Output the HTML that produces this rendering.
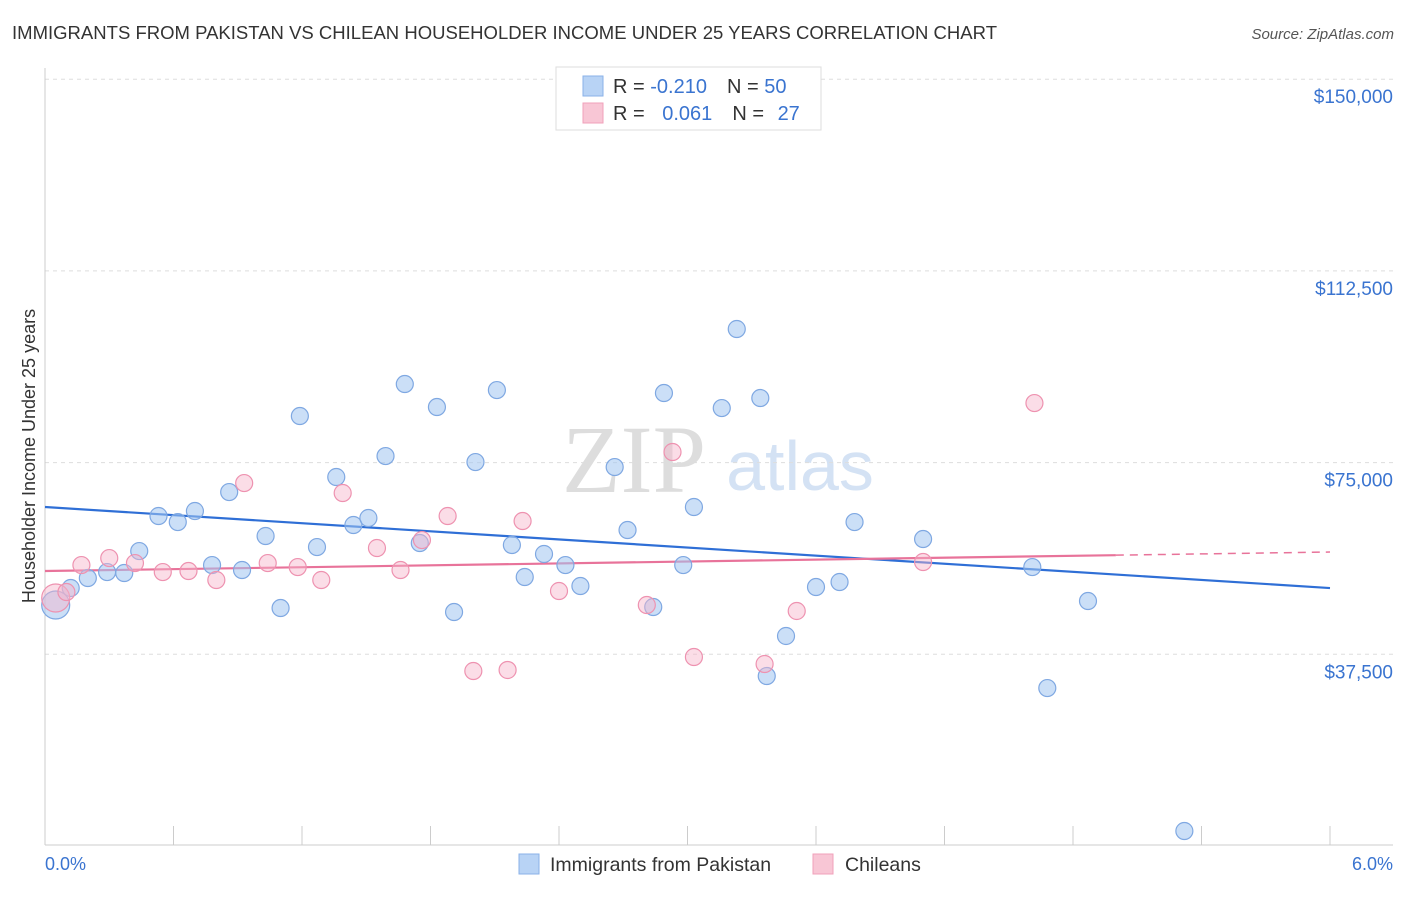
<!DOCTYPE html>
<html><head><meta charset="utf-8"><style>
body{margin:0;background:#fff;font-family:"Liberation Sans",sans-serif;}
</style></head><body>
<svg id="chart" width="1406" height="892" xmlns="http://www.w3.org/2000/svg" font-family="Liberation Sans, sans-serif">
<text x="12" y="39" font-size="18.5" fill="#333" textLength="985">IMMIGRANTS FROM PAKISTAN VS CHILEAN HOUSEHOLDER INCOME UNDER 25 YEARS CORRELATION CHART</text>
<text x="1394" y="39" font-size="15" fill="#555" font-style="italic" text-anchor="end">Source: ZipAtlas.com</text>
<text x="634" y="492" font-size="96" fill="#ddd" font-family="Liberation Serif, serif" text-anchor="middle">ZIP</text>
<text x="800" y="490" font-size="70" fill="#d4e2f4" text-anchor="middle">atlas</text>
<text transform="translate(35,456) rotate(-90)" font-size="18" fill="#333" text-anchor="middle">Householder Income Under 25 years</text>
<g id="grid"></g><g id="lines"></g><g id="pts"></g>
<g>
<rect x="556" y="67" width="265" height="63" fill="#fff" stroke="#ddd"/>
<rect x="583" y="76" width="20" height="20" fill="#b8d3f5" stroke="#8ab2e8"/>
<rect x="583" y="103" width="20" height="20" fill="#f8c6d5" stroke="#f0a0ba"/>
<text x="613" y="93" font-size="20" fill="#333">R = <tspan fill="#3a74d0">-0.210</tspan><tspan dx="20">N = </tspan><tspan fill="#3a74d0">50</tspan></text>
<text x="613" y="120" font-size="20" fill="#333">R = <tspan fill="#3a74d0" dx="12">0.061</tspan><tspan dx="20">N = </tspan><tspan fill="#3a74d0" dx="8">27</tspan></text>
</g>
<g>
<rect x="519" y="854" width="20" height="20" fill="#b8d3f5" stroke="#8ab2e8"/>
<text x="550" y="871" font-size="19.5" fill="#333">Immigrants from Pakistan</text>
<rect x="813" y="854" width="20" height="20" fill="#f8c6d5" stroke="#f0a0ba"/>
<text x="845" y="871" font-size="19.5" fill="#333">Chileans</text>
</g>
<text x="45" y="870" font-size="18" fill="#3a74d0">0.0%</text>
<text x="1393" y="870" font-size="18" fill="#3a74d0" text-anchor="end">6.0%</text>
</svg>
<script>
const yTicks=[37500,75000,112500,150000];
const yTickLabels=["$37,500","$75,000","$112,500","$150,000"];
const blueX=[0.05,0.12,0.20,0.29,0.37,0.44,0.53,0.62,0.70,0.78,0.86,0.92,1.03,1.10,1.19,1.27,1.36,1.44,1.51,1.59,1.68,1.75,1.83,1.91,2.01,2.11,2.18,2.24,2.33,2.43,2.50,2.66,2.72,2.84,2.89,2.98,3.03,3.16,3.23,3.34,3.37,3.46,3.60,3.71,3.78,4.10,4.61,4.68,4.87,5.32];
const blueY=[47140,50470,52420,53590,53400,57700,64550,63370,65530,54960,69240,53990,60640,46550,84110,58480,72180,62790,64160,76280,90370,59270,85870,45770,75110,89190,58880,52620,57120,54960,50860,74130,61810,46750,88610,54960,66310,85670,101130,87630,33250,41080,50660,51640,63370,60050,54570,30900,47920,2930];
const pinkX=[0.05,0.10,0.17,0.30,0.42,0.55,0.67,0.80,0.93,1.04,1.18,1.29,1.39,1.55,1.66,1.76,1.88,2.00,2.16,2.23,2.40,2.81,2.93,3.03,3.36,3.51,4.10,4.62];
const pinkY=[48510,49680,54960,56330,55350,53590,53790,52030,71000,55350,54570,52030,69050,58290,53990,59850,64550,34230,34430,63570,49880,47140,77070,36970,35600,45970,55550,86650];
const blueTrend=[66310,50460];
const pinkTrend=[53790,57510];
const NS="http://www.w3.org/2000/svg";
const X0=45,X1=1330,Y0=846,PY=191.7/37500;
const xs=v=>X0+v/6*(X1-X0), ys=v=>Y0-v*PY;
function mk(t,a,p){const e=document.createElementNS(NS,t);for(const k in a)e.setAttribute(k,a[k]);document.getElementById(p).appendChild(e);return e;}
yTicks.forEach((t,i)=>{
 const l=mk('line',{x1:45,x2:1393,y1:ys(t),y2:ys(t),stroke:'#ddd','stroke-dasharray':'4,4'},'grid');
 
 
 const tx=mk('text',{x:1393,y:ys(t)+24,'font-size':19,fill:'#3a74d0','text-anchor':'end'},'grid');
 tx.textContent=yTickLabels[i];
 
 
});
const ax=mk('line',{x1:45,x2:45,y1:68,y2:845,stroke:'#ccc'},'grid');


const bx=mk('line',{x1:45,x2:1393,y1:845,y2:845,stroke:'#ccc'},'grid');


for(let i=1;i<=10;i++){
 const tk=mk('line',{x1:xs(i*0.6),x2:xs(i*0.6),y1:826,y2:845,stroke:'#ccc'},'grid');
 
 
}
const bl=mk('line',{x1:xs(0),y1:ys(blueTrend[0]),x2:xs(6),y2:ys(blueTrend[1]),stroke:'#2f6fd6','stroke-width':2.2},'lines');


const pm=v=>pinkTrend[0]+(pinkTrend[1]-pinkTrend[0])*v/6;
const pl=mk('line',{x1:xs(0),y1:ys(pm(0)),x2:xs(5),y2:ys(pm(5)),stroke:'#e8739a','stroke-width':2.2},'lines');


const pd=mk('line',{x1:xs(5),y1:ys(pm(5)),x2:xs(6),y2:ys(pm(6)),stroke:'#e8739a','stroke-width':1.5,'stroke-dasharray':'8,6'},'lines');


blueX.forEach((x,i)=>{
 const c=mk('circle',{cx:xs(x),cy:ys(blueY[i]),r:i==0?14:8.5,fill:'rgba(160,196,240,0.55)',stroke:'#7fa8e2','stroke-width':1.2},'pts');
 
 
});
pinkX.forEach((x,i)=>{
 const c=mk('circle',{cx:xs(x),cy:ys(pinkY[i]),r:i==0?14:8.5,fill:'rgba(246,180,202,0.45)',stroke:'#ee92b0','stroke-width':1.2},'pts');
 
 
});
</script>
</body></html>
